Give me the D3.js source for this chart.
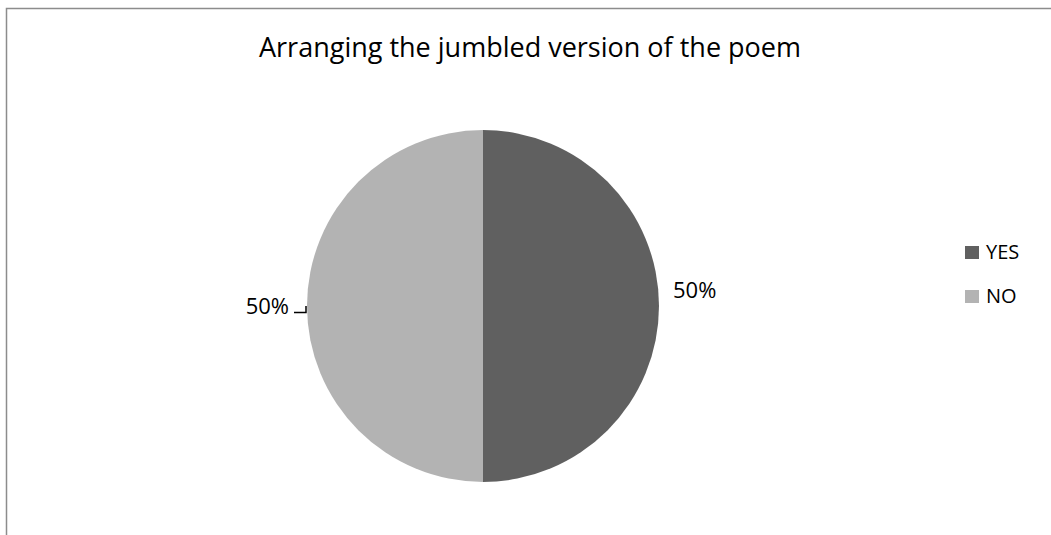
<!DOCTYPE html>
<html>
<head>
<meta charset="utf-8">
<script src="https://cdn.jsdelivr.net/npm/d3@7"></script>
<style>
  html, body { margin: 0; padding: 0; background: #fff; }
  svg { display: block; }
  text { font-family: "Open Sans", "Liberation Sans", sans-serif; fill: #000; }
</style>
</head>
<body>
<svg id="chart" width="1051" height="535"></svg>
<script>
// Survey answers
const categories = ["YES", "NO"];
const values = [50, 50];
const labels = ["50%", "50%"];
const colors = ["#606060", "#b3b3b3"];
const title = "Arranging the jumbled version of the poem";

const svg = d3.select("#chart");
const W = 1051, H = 535;

// Chart frame
svg.append("rect")
  .attr("x", 6.5).attr("y", 8.5)
  .attr("width", W + 10).attr("height", H + 10)
  .attr("fill", "none").attr("stroke", "#8c8c8c").attr("stroke-width", 1.5);

svg.append("text")
  .attr("x", 530).attr("y", 57)
  .attr("text-anchor", "middle")
  .attr("font-size", 27)
  .text(title);

const cx = 483, cy = 306, r = 176;
const color = d3.scaleOrdinal().domain(categories).range(colors);

const pie = d3.pie().sort(null).value(d => d.value);
const data = categories.map((c, i) => ({ name: c, value: values[i], label: labels[i] }));
const arcs = pie(data);
const arc = d3.arc().innerRadius(0).outerRadius(r);

const g = svg.append("g").attr("transform", `translate(${cx},${cy})`);
g.selectAll("path")
  .data(arcs)
  .join("path")
  .attr("d", arc)
  .attr("fill", d => color(d.data.name));

// Data labels
const yesArc = arcs[0];
g.append("text")
  .attr("x", r + 14).attr("y", -8)
  .attr("font-size", 22)
  .attr("text-anchor", "start")
  .text(yesArc.data.label);

const noArc = arcs[1];
g.append("text")
  .attr("x", -r - 18).attr("y", 8)
  .attr("font-size", 22)
  .attr("text-anchor", "end")
  .text(noArc.data.label);

// Leader line for the left label
g.append("path")
  .attr("d", `M${-r - 13},6.5 H${-r - 1} V0`)
  .attr("fill", "none")
  .attr("stroke", "#000")
  .attr("stroke-width", 1.5);

// Legend
const legend = svg.append("g").attr("transform", "translate(965,246)");
const item = legend.selectAll("g")
  .data(categories)
  .join("g")
  .attr("transform", (d, i) => `translate(0,${i * 44})`);
item.append("rect")
  .attr("width", 14).attr("height", 13)
  .attr("fill", d => color(d));
item.append("text")
  .attr("x", 21).attr("y", 13)
  .attr("font-size", 20)
  .text(d => d);
</script>
</body>
</html>
